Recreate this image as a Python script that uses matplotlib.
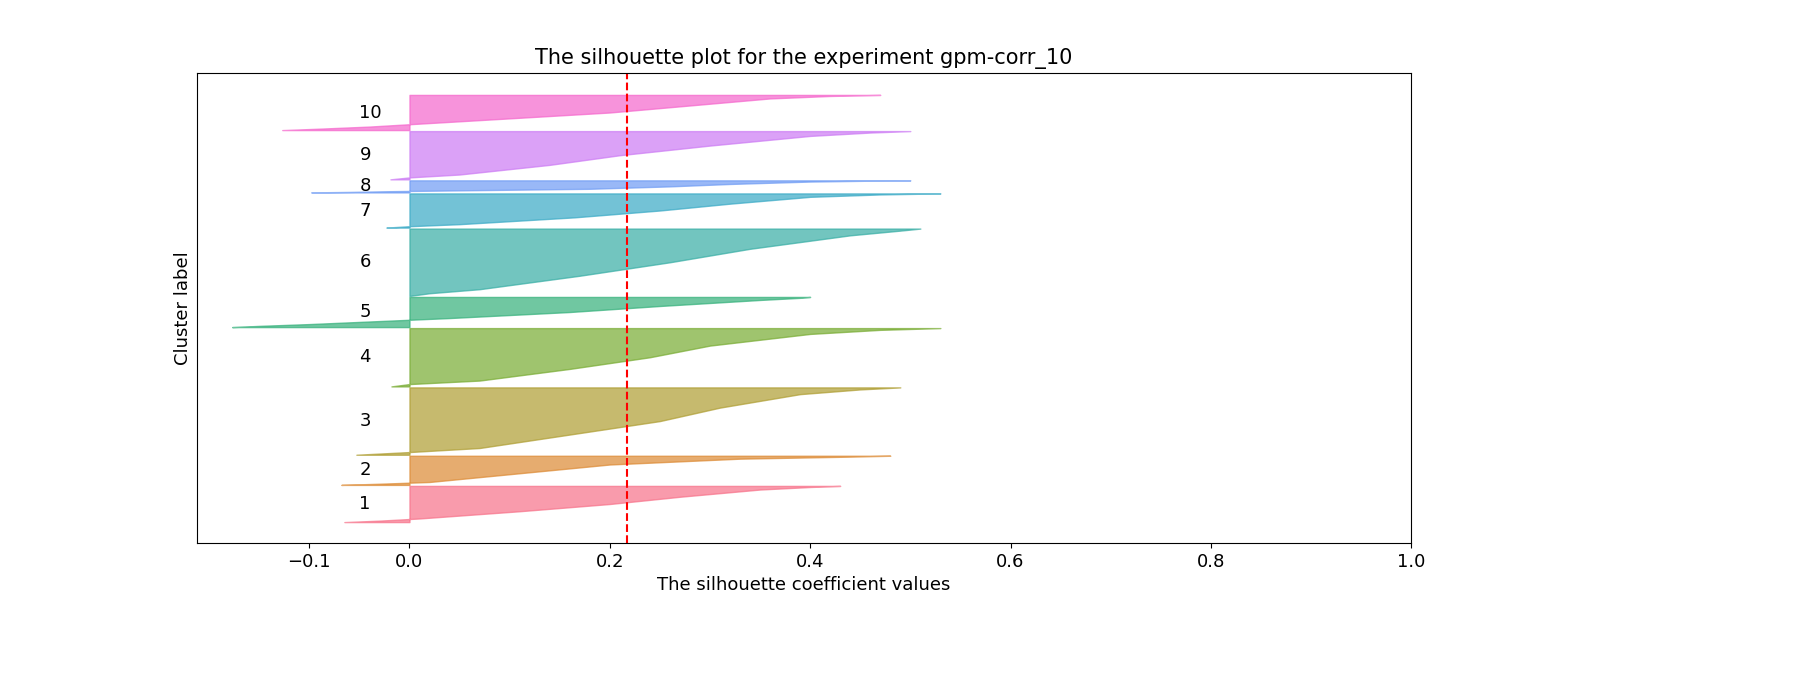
import matplotlib
matplotlib.use("Agg")
import matplotlib.pyplot as plt
import numpy as np
import seaborn as sns

labels = [str(i) for i in range(1, 11)]
sizes = [36, 29, 67, 58, 30, 67, 34, 12, 48, 35]
fracs = [0, 0.04, 0.1, 0.3, 0.5, 0.7, 0.9, 0.97, 1.0]
profiles = [
    [-0.065, -0.03, 0.01, 0.11, 0.20, 0.27, 0.35, 0.40, 0.43],
    [-0.068, -0.03, 0.02, 0.08, 0.14, 0.20, 0.33, 0.44, 0.48],
    [-0.053, 0.0, 0.07, 0.16, 0.25, 0.31, 0.39, 0.45, 0.49],
    [-0.018, 0.0, 0.07, 0.16, 0.24, 0.30, 0.40, 0.47, 0.53],
    [-0.177, -0.15, -0.10, 0.04, 0.16, 0.25, 0.35, 0.39, 0.40],
    [0.0, 0.02, 0.07, 0.17, 0.26, 0.34, 0.44, 0.49, 0.51],
    [-0.023, 0.0, 0.05, 0.165, 0.25, 0.32, 0.40, 0.47, 0.53],
    [-0.098, -0.06, -0.02, 0.18, 0.26, 0.32, 0.40, 0.46, 0.50],
    [-0.019, 0.0, 0.05, 0.14, 0.21, 0.30, 0.40, 0.46, 0.50],
    [-0.127, -0.09, -0.04, 0.08, 0.20, 0.28, 0.36, 0.42, 0.47],
]
avg_score = 0.217

colors = sns.color_palette("husl", len(labels))
fig = plt.figure(figsize=(18, 7), dpi=100)
ax = fig.add_axes([0.1095, 0.224, 0.6745, 0.672])

margin, gap = 21, 1
y_lower = margin
for lab, n, vals, c in zip(labels, sizes, profiles, colors):
    y = y_lower + np.array(fracs) * n
    ax.fill_betweenx(y, 0, vals, facecolor=c, edgecolor=c, alpha=0.7)
    ax.text(-0.05, y_lower + 0.5 * n, lab, fontsize=13, va="center")
    y_lower += n + gap
ax.set_ylim(0, y_lower - gap + margin + 1)
ax.set_xlim(-0.212, 1.0)
ax.axvline(avg_score, color="red", linestyle="--", linewidth=1.5)
ax.set_yticks([])
ax.set_xticks([-0.1, 0, 0.2, 0.4, 0.6, 0.8, 1.0])
ax.tick_params(labelsize=13)
ax.set_title("The silhouette plot for the experiment gpm-corr_10", fontsize=15)
ax.set_xlabel("The silhouette coefficient values", fontsize=13)
ax.set_ylabel("Cluster label", fontsize=13)
fig.savefig("out.png", dpi=100)
